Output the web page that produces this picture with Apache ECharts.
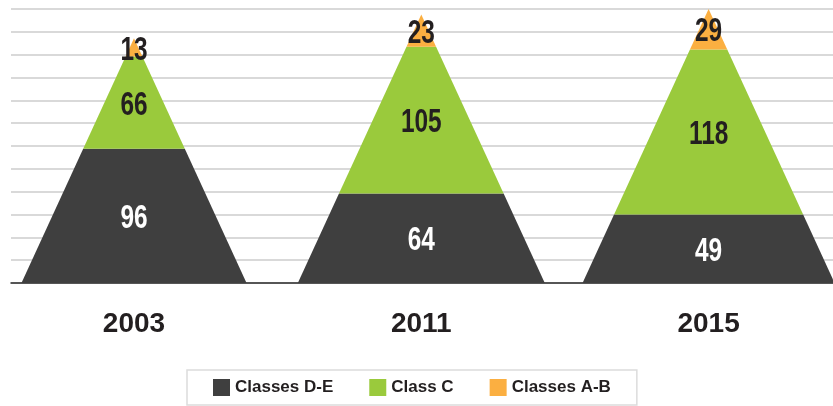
<!DOCTYPE html>
<html>
<head>
<meta charset="utf-8">
<script src="https://cdn.jsdelivr.net/npm/echarts@6/dist/echarts.min.js"></script>
<style>
html,body{margin:0;padding:0;background:#fff;}
#chart{width:833px;height:406px;}
</style>
</head>
<body>
<div id="chart"></div>
<script>
var years = ['2003', '2011', '2015'];
var classDE = [96, 64, 49];
var classC = [66, 105, 118];
var classAB = [13, 23, 29];
var names = ['Classes D-E', 'Class C', 'Classes A-B'];
var colors = ['#3f3f3f', '#9aca3c', '#fbaf41'];
var labelColors = ['#ffffff', '#231f20', '#231f20'];
var yMax = 196;

var groups = [classDE, classC, classAB];
var fontStack = '"Liberation Sans Narrow", "Arial Narrow", "Liberation Sans", Arial, sans-serif';

// segment rows: [category index, start, end, total]
function buildRows(k){
	var rows = [];
	for (var i = 0; i < years.length; i++) {
		var start = 0;
		for (var j = 0; j < k; j++) start += groups[j][i];
		var total = classDE[i] + classC[i] + classAB[i];
		rows.push([i, start, start + groups[k][i], total]);
	}
	return rows;
}

var slope = 0.46; // half width / height of the triangles, px

function makeRender(k){
	return function(params, api){
		var cat = api.value(0);
		var p0 = api.coord([cat, api.value(1)]);
		var p1 = api.coord([cat, api.value(2)]);
		var apex = api.coord([cat, api.value(3)]);
		var x = p0[0];
		var hw0 = slope * (p0[1] - apex[1]);
		var hw1 = slope * (p1[1] - apex[1]);
		var val = api.value(2) - api.value(1);
		return {
			type: 'group',
			children: [{
				type: 'polygon',
				shape: {points: [[x - hw0, p0[1]], [x + hw0, p0[1]], [x + hw1, p1[1]], [x - hw1, p1[1]]]},
				style: {fill: colors[k]}
			}, {
				type: 'text',
				z2: 100,
				x: x,
				y: (p0[1] + p1[1]) / 2 + 3,
				scaleX: 0.74,
				style: {
					text: String(val),
					x: 0,
					y: 0,
					textAlign: 'center',
					textVerticalAlign: 'middle',
					fill: labelColors[k],
					font: 'bold 33px ' + fontStack
				}
			}]
		};
	};
}

var series = [];
for (var k = 0; k < 3; k++) {
	series.push({
		type: 'custom',
		name: names[k],
		xAxisIndex: 1,
		yAxisIndex: 1,
		itemStyle: {color: colors[k]},
		renderItem: makeRender(k),
		encode: {x: 0, y: [1, 2]},
		data: buildRows(k)
	});
}

var myChart = echarts.init(document.getElementById('chart'));
var option = {
	animation: false,
	color: colors,
	grid: [
		{left: 11, right: 0, top: 9, bottom: 123},
		{left: 0, right: 0, top: 9, bottom: 123}
	],
	xAxis: [{
		gridIndex: 0,
		type: 'value',
		min: 0,
		max: 1,
		axisLine: {show: true, lineStyle: {color: '#2b2b2b', width: 1.5}},
		axisTick: {show: false},
		axisLabel: {show: false},
		splitLine: {show: false}
	}, {
		gridIndex: 1,
		type: 'value',
		min: -0.4664,
		max: 2.433,
		axisLine: {show: false},
		axisTick: {show: false},
		splitLine: {show: false},
		axisLabel: {
			customValues: [0, 1, 2],
			formatter: function(v){ return years[Math.round(v)]; },
			margin: 27,
			color: '#231f20',
			fontSize: 28,
			fontWeight: 'bold',
			fontFamily: fontStack
		}
	}],
	yAxis: [{
		gridIndex: 0,
		type: 'value',
		min: 0,
		max: yMax,
		interval: yMax / 12,
		axisLine: {show: false},
		axisTick: {show: false},
		axisLabel: {show: false},
		splitLine: {show: true, lineStyle: {color: '#d9d9d9', width: 2}}
	}, {
		gridIndex: 1,
		type: 'value',
		min: 0,
		max: yMax,
		axisLine: {show: false},
		axisTick: {show: false},
		axisLabel: {show: false},
		splitLine: {show: false}
	}],
	legend: {
		data: names,
		left: 187,
		top: 370,
		padding: [9, 26, 9, 26],
		borderColor: '#dcdcdc',
		borderWidth: 1.5,
		itemWidth: 17,
		itemHeight: 17,
		itemGap: 36,
		icon: 'rect',
		textStyle: {
			color: '#231f20',
			fontSize: 17,
			fontWeight: 'bold',
			fontFamily: fontStack
		}
	},
	series: series
};
myChart.setOption(option);
</script>
</body>
</html>
